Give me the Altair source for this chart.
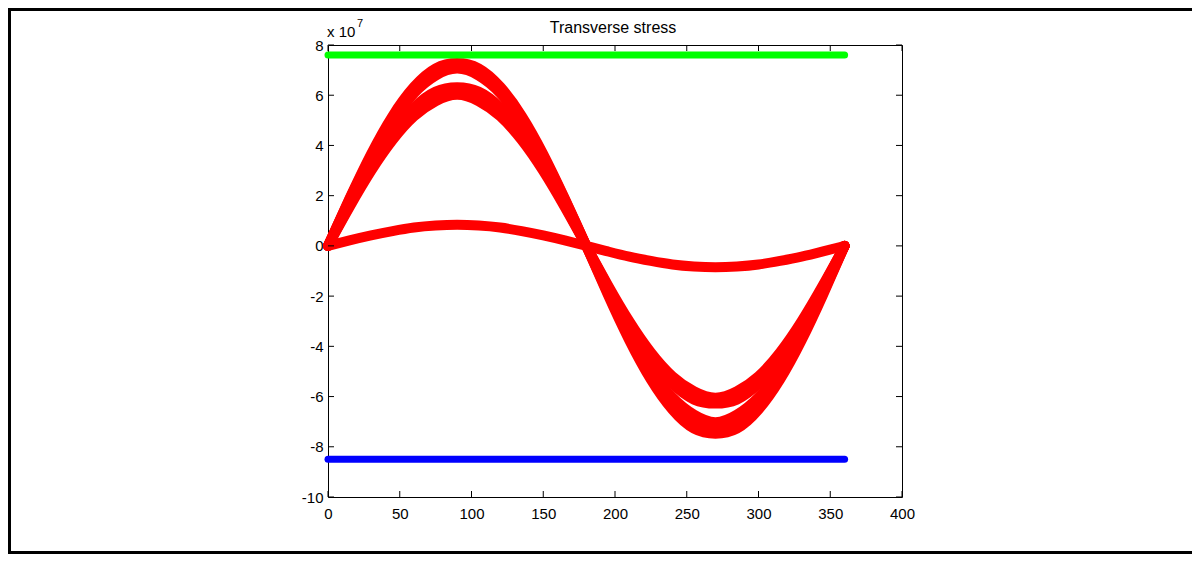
import altair as alt
import pandas as pd

# ---- data (stress values in units of 1e7) ----
angles = [0, 15, 30, 45, 60, 75, 90, 105, 120, 135, 150, 165, 180,
          195, 210, 225, 240, 255, 270, 285, 300, 315, 330, 345, 360]

curve_a = [0, 1.89, 3.66, 5.18, 6.34, 7.07, 7.28, 7.07, 6.34, 5.18, 3.66, 1.89, 0,
           -1.95, -3.77, -5.33, -6.53, -7.28, -7.48, -7.28, -6.53, -5.33, -3.77, -1.95, 0]
curve_b = [0, 1.86, 3.59, 5.07, 6.21, 6.93, 7.17, 6.93, 6.21, 5.07, 3.59, 1.86, 0,
           -1.88, -3.63, -5.13, -6.28, -7.00, -7.25, -7.00, -6.28, -5.13, -3.63, -1.88, 0]
curve_c = [0, 1.82, 3.51, 4.96, 6.08, 6.78, 7.06, 6.78, 6.08, 4.96, 3.51, 1.82, 0,
           -1.80, -3.48, -4.92, -6.03, -6.72, -7.02, -6.72, -6.03, -4.92, -3.48, -1.80, 0]
curve_d = [0, 1.65, 3.19, 4.50, 5.52, 6.15, 6.32, 6.15, 5.52, 4.50, 3.19, 1.65, 0,
           -1.64, -3.17, -4.48, -5.49, -6.12, -6.28, -6.12, -5.49, -4.48, -3.17, -1.64, 0]
curve_e = [0, 1.59, 3.08, 4.36, 5.33, 5.95, 6.16, 5.95, 5.33, 4.36, 3.08, 1.59, 0,
           -1.60, -3.09, -4.36, -5.34, -5.96, -6.17, -5.96, -5.34, -4.36, -3.09, -1.60, 0]
curve_f = [0, 1.54, 2.98, 4.21, 5.16, 5.76, 6.02, 5.76, 5.16, 4.21, 2.98, 1.54, 0,
           -1.55, -3.00, -4.24, -5.19, -5.79, -6.05, -5.79, -5.19, -4.24, -3.00, -1.55, 0]
curve_g = [0, 0.22, 0.42, 0.59, 0.73, 0.81, 0.84, 0.81, 0.73, 0.59, 0.42, 0.22, 0,
           -0.22, -0.43, -0.60, -0.74, -0.82, -0.85, -0.82, -0.74, -0.60, -0.43, -0.22, 0]

limit_x = [0, 360]
upper_limit = [7.6, 7.6]
lower_limit = [-8.5, -8.5]

x_ticks = [0, 50, 100, 150, 200, 250, 300, 350, 400]
y_ticks = [-10, -8, -6, -4, -2, 0, 2, 4, 6, 8]

title_text = "Transverse stress"
exp_base = "x 10"
exp_power = "7"

# ---- tables ----
curves = {"a": curve_a, "b": curve_b, "c": curve_c, "d": curve_d,
          "e": curve_e, "f": curve_f, "g": curve_g}
rows = []
for name, vals in curves.items():
    for a, v in zip(angles, vals):
        rows.append({"angle": a, "value": v, "curve": name})
df_red = pd.DataFrame(rows)
df_green = pd.DataFrame({"angle": limit_x, "value": upper_limit})
df_blue = pd.DataFrame({"angle": limit_x, "value": lower_limit})
df_xt = pd.DataFrame({"angle": x_ticks})
df_yt = pd.DataFrame({"value": y_ticks})

W, H = 574, 452
FONT = "Liberation Sans"
xs = alt.Scale(domain=[0, 400], nice=False, zero=False)
ys = alt.Scale(domain=[-10, 8], nice=False, zero=False)

x_axis = alt.Axis(values=x_ticks, ticks=False, grid=False, domain=False, title=None,
                  labelFontSize=15, labelFont=FONT, labelColor="black", labelPadding=9,
                  labelFlush=False, labelOverlap=False, labelExpr="toString(datum.value)")
y_axis = alt.Axis(values=y_ticks, ticks=False, grid=False, domain=False, title=None,
                  labelFontSize=15, labelFont=FONT, labelColor="black", labelPadding=5,
                  labelFlush=False, labelOverlap=False, labelExpr="toString(datum.value)")

X = alt.X("angle:Q", scale=xs, axis=x_axis)
Y = alt.Y("value:Q", scale=ys, axis=y_axis)

red = alt.Chart(df_red).mark_line(
    color="#ff0000", strokeWidth=10, strokeCap="round", strokeJoin="round",
    interpolate="natural"
).encode(x=X, y=Y, detail="curve:N")

green = alt.Chart(df_green).mark_line(color="#00ff00", strokeWidth=7, strokeCap="round").encode(x=X, y=Y)
blue = alt.Chart(df_blue).mark_line(color="#0000ff", strokeWidth=7, strokeCap="round").encode(x=X, y=Y)

TL = 6
xt_bottom = alt.Chart(df_xt).mark_rule(color="black", strokeWidth=1).encode(
    x=X, y=alt.value(H), y2=alt.value(H - TL))
xt_top = alt.Chart(df_xt).mark_rule(color="black", strokeWidth=1).encode(
    x=X, y=alt.value(0), y2=alt.value(TL))
yt_left = alt.Chart(df_yt).mark_rule(color="black", strokeWidth=1).encode(
    y=Y, x=alt.value(0), x2=alt.value(TL))
yt_right = alt.Chart(df_yt).mark_rule(color="black", strokeWidth=1).encode(
    y=Y, x=alt.value(W), x2=alt.value(W - TL))

title = alt.Chart(pd.DataFrame({"t": [title_text]})).mark_text(
    font=FONT, fontSize=16, color="black", align="center", baseline="alphabetic"
).encode(text="t:N", x=alt.value(285), y=alt.value(-12))
exp1 = alt.Chart(pd.DataFrame({"t": [exp_base]})).mark_text(
    font=FONT, fontSize=15, color="black", align="left", baseline="alphabetic"
).encode(text="t:N", x=alt.value(-1), y=alt.value(-8))
exp2 = alt.Chart(pd.DataFrame({"t": [exp_power]})).mark_text(
    font=FONT, fontSize=11, color="black", align="left", baseline="alphabetic"
).encode(text="t:N", x=alt.value(29), y=alt.value(-18))

# outer frame of the figure (top, left, bottom)
frame_top = alt.Chart(pd.DataFrame({"k": [0]})).mark_rule(color="black", strokeWidth=3).encode(
    x=alt.value(-320), x2=alt.value(864), y=alt.value(-35.5))
frame_left = alt.Chart(pd.DataFrame({"k": [0]})).mark_rule(color="black", strokeWidth=3).encode(
    x=alt.value(-318.5), y=alt.value(-37), y2=alt.value(509))
frame_bottom = alt.Chart(pd.DataFrame({"k": [0]})).mark_rule(color="black", strokeWidth=3).encode(
    x=alt.value(-320), x2=alt.value(864), y=alt.value(507.5))

chart = alt.layer(
    red, green, blue, xt_bottom, xt_top, yt_left, yt_right,
    title, exp1, exp2, frame_top, frame_left, frame_bottom
).properties(
    width=W, height=H,
    padding={"left": 320, "top": 37, "right": 292, "bottom": 57},
    autosize=alt.AutoSizeParams(type="none"),
    background="white",
).configure_view(
    stroke="black", strokeWidth=1
)

chart.save("out.html", embed_options={"renderer": "svg", "actions": False})
